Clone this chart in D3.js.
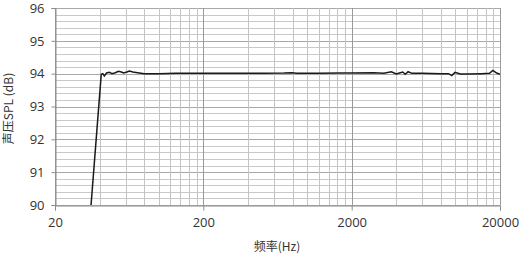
<!DOCTYPE html>
<html>
<head>
<meta charset="utf-8">
<script src="https://cdn.jsdelivr.net/npm/d3@7"></script>
<style>
  html, body { margin: 0; padding: 0; background: #fff; }
  svg { display: block; }
</style>
</head>
<body>
<div id="chart"></div>
<script>
// Frequency response.
const freqs = [35, 41, 42, 43, 44.5, 46.5, 48.5, 51, 53.5, 56, 58, 61, 63.5, 67, 72, 80, 90, 100, 130,
    200, 300, 500, 700, 790, 850, 1200, 1700, 2000, 2800, 3300, 3700, 4000, 4200, 4420, 4600, 4800, 5100,
    6000, 8000, 9000, 9460, 9950, 10800, 12000, 15000, 17000, 17900, 19000, 20000];
const spl = [90, 93.98, 94.0, 93.93, 94.02, 94.04, 94.0, 94.03, 94.07, 94.05, 94.02, 94.05, 94.08, 94.05, 94.03, 94.0, 94.0, 94.0, 94.01,
    94.01, 94.01, 94.01, 94.02, 94.03, 94.01, 94.01, 94.02, 94.02, 94.03, 94.01, 94.06, 93.99, 94.02, 94.05, 93.98, 94.06, 94.01,
    94.01, 94.0, 94.0, 93.94, 94.04, 93.99, 93.99, 94.0, 94.01, 94.1, 94.02, 93.98];
const xTicks = [20, 200, 2000, 20000];
const yTicks = [90, 91, 92, 93, 94, 95, 96];

const width = 524, height = 265;
const marginLeft = 55, marginRight = 24, marginTop = 8, marginBottom = 60;

const data = freqs.map((f, i) => ({f: f, v: spl[i]}));

// Minor grid: multiples of 2 in each decade (20, 40, ... 200, 400, ...).
const xGrid = [];
[20, 200, 2000].forEach(d => { for (let k = 1; k <= 10; k++) xGrid.push(d * k); });
const yGrid = d3.range(900, 961, 2).map(d => d / 10);

const x = d3.scaleLog().domain([20, 20000]).range([marginLeft, width - marginRight]);
const y = d3.scaleLinear().domain([90, 96]).range([height - marginBottom, marginTop]);

const svg = d3.select("#chart")
    .append("svg")
    .attr("width", width)
    .attr("height", height)
    .attr("viewBox", [0, 0, width, height]);

// Horizontal grid.
svg.append("g")
    .selectAll("line")
    .data(yGrid)
    .join("line")
        .attr("x1", marginLeft)
        .attr("x2", width - marginRight)
        .attr("y1", d => Math.round(y(d)) + 0.5)
        .attr("y2", d => Math.round(y(d)) + 0.5)
        .attr("stroke", d => Math.abs(d - Math.round(d)) < 1e-6 ? "#a8a8a8" : "#c9c9c9")
        .attr("stroke-width", 1);

// Vertical grid.
svg.append("g")
    .selectAll("line")
    .data(xGrid)
    .join("line")
        .attr("x1", d => Math.round(x(d)) + 0.5)
        .attr("x2", d => Math.round(x(d)) + 0.5)
        .attr("y1", marginTop)
        .attr("y2", height - marginBottom)
        .attr("stroke", d => xTicks.includes(d) ? "#9a9a9a" : "#c4c4c4")
        .attr("stroke-width", 1);

// Axes.
const yAxis = svg.append("g")
    .attr("transform", `translate(${marginLeft + 0.5},0)`)
    .call(d3.axisLeft(y).tickValues(yTicks).tickSize(4).tickFormat(d3.format("d")));
const xAxis = svg.append("g")
    .attr("transform", `translate(0,${Math.round(y(90)) + 0.5})`)
    .call(d3.axisBottom(x).tickValues(xTicks).tickSize(5).tickFormat(d3.format("d")));

[yAxis, xAxis].forEach(g => {
    g.select(".domain").attr("stroke", "#8c8c8c");
    g.selectAll(".tick line").attr("stroke", "#8c8c8c");
    g.selectAll(".tick text")
        .attr("fill", "#333")
        .attr("font-family", "'Open Sans', 'Liberation Sans', sans-serif")
        .attr("font-size", 13);
});
yAxis.selectAll(".tick text").attr("x", -11);
xAxis.selectAll(".tick text").attr("y", 12);

// Response curve.
svg.append("clipPath").attr("id", "plot")
    .append("rect")
        .attr("x", marginLeft)
        .attr("y", marginTop)
        .attr("width", width - marginRight - marginLeft)
        .attr("height", height - marginBottom - marginTop);

svg.append("path")
    .datum(data)
    .attr("clip-path", "url(#plot)")
    .attr("fill", "none")
    .attr("stroke", "#1a1a1a")
    .attr("stroke-width", 1.5)
    .attr("d", d3.line().x(d => x(d.f)).y(d => y(d.v)));

// Axis titles.
svg.append("text")
    .attr("transform", `translate(13,${(marginTop + height - marginBottom) / 2 + 2}) rotate(-90)`)
    .attr("text-anchor", "middle")
    .attr("font-family", "'Noto Sans CJK SC', sans-serif")
    .attr("font-size", 12)
    .attr("fill", "#333")
    .text("声压SPL (dB)");

svg.append("text")
    .attr("x", 277)
    .attr("y", 251)
    .attr("text-anchor", "middle")
    .attr("font-family", "'Noto Sans CJK SC', sans-serif")
    .attr("font-size", 12)
    .attr("fill", "#333")
    .text("频率(Hz)");
</script>
</body>
</html>
